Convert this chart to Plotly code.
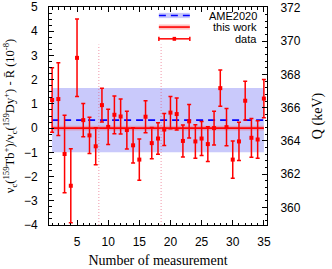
import plotly.graph_objects as go

# ---- data ----
measurement = list(range(1, 36))
ratio_dev = [1.16, 1.20, -1.07, -2.38, 2.90, 0.33, -0.30, -0.75, 0.95, 0.05,
             0.55, 0.48, -0.08, -0.71, -1.30, 0.47, -0.62, -0.43, -0.06, 0.64,
             0.58, -0.53, 0.28, -0.55, -0.43, -0.66, 0.00, 1.65, 0.04, -1.30,
             -0.55, 1.13, -0.40, -0.47, 1.22]
ratio_err = [1.33, 1.50, 1.60, 1.53, 1.60, 0.69, 0.75, 0.76, 0.70, 0.73,
             0.78, 0.72, 0.78, 0.73, 0.85, 0.66, 0.65, 0.65, 0.66, 0.67,
             0.66, 0.66, 0.69, 0.69, 0.70, 0.72, 0.70, 0.75, 0.77, 0.77,
             0.79, 0.80, 0.80, 0.77, 0.79]
ame_value = 0.33
ame_err = 1.33
this_work_value = 0.0
this_work_err = 0.1
band_x = [1, 35]
boundaries = [8.5, 18.5]
boundary_top = 3.45
legend_labels = ["AME2020", "this work", "data"]
q_ticks = [360, 362, 364, 366, 368, 370, 372]
q_range = [358.95, 372.05]
y_range = [-4, 5]
x_range = [0.5, 35.5]

RED = "#ff0000"
BLUE = "#0000ff"
BLUE_BAND = "rgba(60,60,240,0.28)"
RED_BAND = "rgba(255,60,60,0.30)"
TICKFONT = dict(family="Liberation Sans, Arial", size=12, color="black")
TITLEFONT = dict(family="Liberation Serif, Times New Roman", size=14, color="black")

fig = go.Figure()

# AME2020 band
fig.add_trace(go.Scatter(
    x=[band_x[0], band_x[1], band_x[1], band_x[0]],
    y=[ame_value - ame_err, ame_value - ame_err, ame_value + ame_err, ame_value + ame_err],
    fill="toself", fillcolor=BLUE_BAND, line=dict(width=0), mode="lines",
    hoverinfo="skip", showlegend=False))
# this work band
fig.add_trace(go.Scatter(
    x=[band_x[0], band_x[1], band_x[1], band_x[0]],
    y=[this_work_value - this_work_err, this_work_value - this_work_err,
       this_work_value + this_work_err, this_work_value + this_work_err],
    fill="toself", fillcolor=RED_BAND, line=dict(width=0), mode="lines",
    hoverinfo="skip", showlegend=False))
# this work line
fig.add_trace(go.Scatter(x=band_x, y=[this_work_value] * 2, mode="lines",
                         line=dict(color=RED, width=1.6), showlegend=False))
# AME line
fig.add_trace(go.Scatter(x=band_x, y=[ame_value] * 2, mode="lines",
                         line=dict(color=BLUE, width=1.6, dash="7px,5px"), showlegend=False))
# boundaries
for b in boundaries:
    fig.add_trace(go.Scatter(x=[b, b], y=[y_range[0], boundary_top], mode="lines",
                             line=dict(color="rgba(230,80,110,0.6)", width=1, dash="1px,2px"),
                             showlegend=False, hoverinfo="skip"))
# data
fig.add_trace(go.Scatter(
    x=measurement, y=ratio_dev, mode="markers",
    marker=dict(symbol="square", size=4, color=RED),
    error_y=dict(type="data", array=ratio_err, color=RED, thickness=1.5, width=2),
    showlegend=False))
# invisible trace to activate the Q axis
fig.add_trace(go.Scatter(x=measurement[:1], y=q_ticks[:1], yaxis="y2", mode="markers",
                         marker=dict(opacity=0), hoverinfo="skip", showlegend=False))

# ---- manual legend (domain coordinates) ----
lx0, lx1 = 0.504, 0.646
rows = [0.961, 0.908, 0.854]
shapes = []
shapes.append(dict(type="rect", xref="x domain", yref="y domain", x0=lx0, x1=lx1,
                   y0=rows[0] - 0.012, y1=rows[0] + 0.012, fillcolor=BLUE_BAND, line=dict(width=0)))
shapes.append(dict(type="line", xref="x domain", yref="y domain", x0=lx0, x1=lx1,
                   y0=rows[0], y1=rows[0], line=dict(color=BLUE, width=1.6, dash="7px,5px")))
shapes.append(dict(type="rect", xref="x domain", yref="y domain", x0=lx0, x1=lx1,
                   y0=rows[1] - 0.012, y1=rows[1] + 0.012, fillcolor=RED_BAND, line=dict(width=0)))
shapes.append(dict(type="line", xref="x domain", yref="y domain", x0=lx0, x1=lx1,
                   y0=rows[1], y1=rows[1], line=dict(color=RED, width=1.6)))
shapes.append(dict(type="line", xref="x domain", yref="y domain", x0=lx0, x1=lx1,
                   y0=rows[2], y1=rows[2], line=dict(color=RED, width=1.5)))
for cx in (lx0, lx1):
    shapes.append(dict(type="line", xref="x domain", yref="y domain", x0=cx, x1=cx,
                       y0=rows[2] - 0.01, y1=rows[2] + 0.01, line=dict(color=RED, width=1.5)))
mx = (lx0 + lx1) / 2
shapes.append(dict(type="rect", xref="x domain", yref="y domain", x0=mx - 0.008, x1=mx + 0.008,
                   y0=rows[2] - 0.009, y1=rows[2] + 0.009, fillcolor=RED, line=dict(width=0)))

annotations = []
for lab, ry in zip(legend_labels, rows):
    annotations.append(dict(text=lab, xref="x domain", yref="y domain", x=0.963, y=ry,
                            xanchor="right", yanchor="middle", showarrow=False,
                            font=dict(family="Liberation Sans, Arial", size=11, color="black")))

fig.update_layout(
    width=332, height=269,
    margin=dict(l=49, r=65, t=7, b=44, autoexpand=False),
    paper_bgcolor="white", plot_bgcolor="white",
    shapes=shapes, annotations=annotations,
    xaxis=dict(range=x_range, tickvals=[5, 10, 15, 20, 25, 30, 35], ticks="inside",
               ticklen=5, tickcolor="black", showline=True, linecolor="black", linewidth=1,
               mirror="ticks", showgrid=False, zeroline=False, tickfont=TICKFONT,
               minor=dict(dtick=1, tick0=0, ticks="inside", ticklen=2.5, tickcolor="black"),
               title=dict(text="Number of measurement", font=TITLEFONT, standoff=6),
               ticklabelstandoff=6, automargin=False),
    yaxis=dict(range=y_range, dtick=1, ticks="inside", ticklen=5, tickcolor="black",
               showline=True, linecolor="black", linewidth=1, mirror=False,
               showgrid=False, zeroline=False, tickfont=TICKFONT,
               minor=dict(dtick=0.25, ticks="inside", ticklen=2.5, tickcolor="black"),
               ticklabelstandoff=8, automargin=False,
               title=dict(text="ν<sub>c</sub>(<sup>159</sup>Tb<sup>+</sup>)/ν<sub>c</sub>(<sup>159</sup>Dy<sup>+</sup>) - R\u0304 (10<sup>-8</sup>)",
                          font=dict(family="Liberation Serif, Times New Roman", size=12.5, color="black"),
                          standoff=6)),
    yaxis2=dict(range=q_range, tickvals=q_ticks, overlaying="y", side="right", anchor="x",
                ticks="inside", ticklen=5, tickcolor="black", showline=True, linecolor="black",
                linewidth=1, showgrid=False, zeroline=False, tickfont=TICKFONT,
                minor=dict(dtick=0.4, tick0=360, ticks="inside", ticklen=2.5, tickcolor="black"),
                ticklabelstandoff=10, automargin=False,
                title=dict(text="Q (keV)", font=TITLEFONT, standoff=12)),
)

fig.write_html("out.html", config={"displayModeBar": False},
               post_script="document.body.style.margin='0';document.body.style.overflow='hidden';")
